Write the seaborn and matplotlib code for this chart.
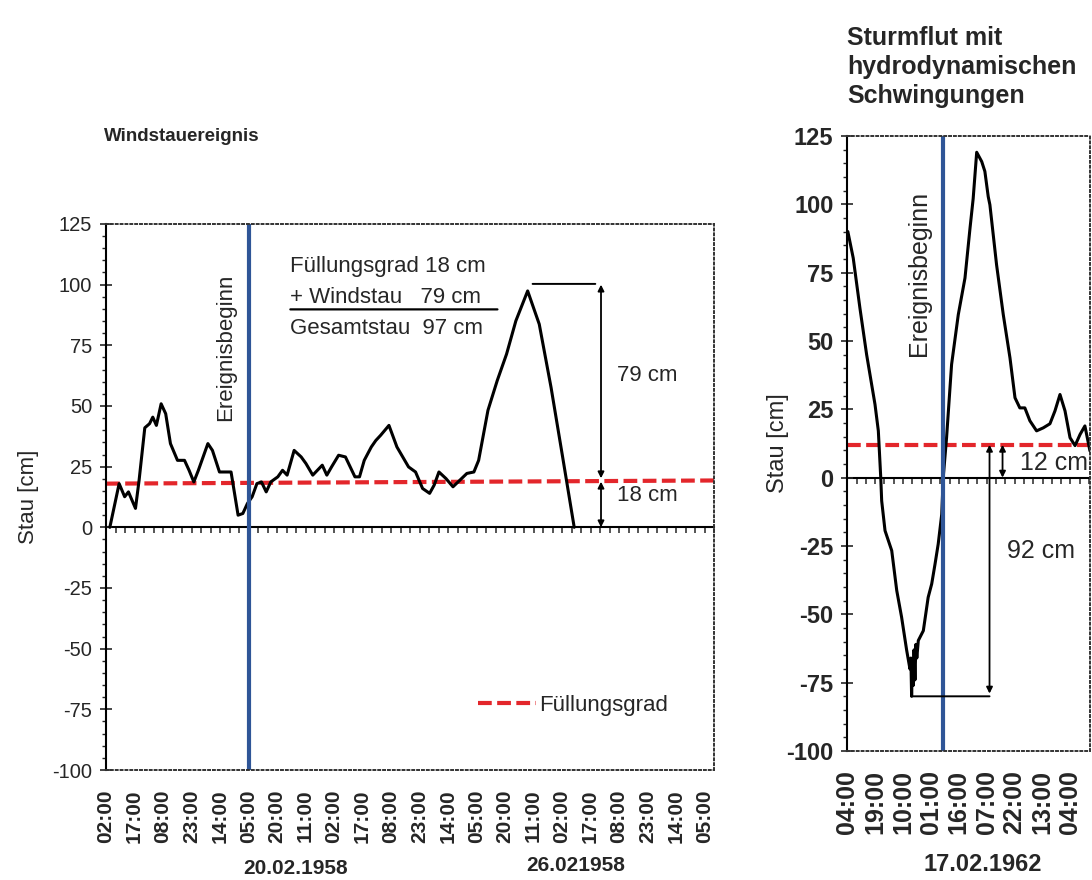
import matplotlib
matplotlib.use("Agg")
import matplotlib.pyplot as plt
from matplotlib.ticker import MultipleLocator
import seaborn as sns

# ============================================
# Windstauereignis (Feb. 1958), Stunden ab 02:00
# ============================================
wind_hours = [2.0, 6.9, 9.8, 11.8, 15.5, 17.4, 20.4, 22.9, 24.6, 26.5, 29.0, 31.4,
              33.9, 37.6, 41.3, 43.7, 46.2, 48.6, 53.6, 56.0, 59.7, 65.8, 69.5, 72.0,
              74.4, 76.9, 79.4, 81.8, 84.3, 86.7, 90.4, 92.9, 95.3, 99.0, 102.7, 105.2,
              108.8, 113.8, 116.2, 118.7, 122.4, 126.0, 131.0, 133.4, 135.9, 139.6,
              142.0, 144.5, 148.9, 153.1, 159.2, 162.9, 166.6, 170.3, 172.7, 175.2,
              178.9, 182.6, 186.2, 189.9, 193.6, 196.1, 201.0, 205.9, 210.8, 215.7,
              221.9, 228.0, 234.2, 240.3, 246.4]
wind_stau = [0, 18, 12.6, 14.6, 7.8, 19.4, 41, 42.7, 45.4, 42, 50.9, 46.8,
             34.5, 27.6, 27.6, 23.5, 18.7, 23.5, 34.5, 31.7, 22.8, 22.8, 5, 5.7,
             9.8, 12.6, 18, 18.7, 14.6, 18.7, 20.8, 23.5, 21.5, 31.7, 29, 26.3,
             21.5, 25.6, 21.5, 24.9, 29.7, 29, 20.8, 20.8, 27.6, 33.1,
             35.8, 37.9, 42, 33.1, 24.9, 22.8, 16, 14, 17.4, 22.8,
             20.1, 16.7, 19.4, 22.2, 22.8, 27.6, 48.2, 60.5, 71.4, 85.1,
             97.4, 83.7, 57.7, 29, 0]
wind_ticks = ["02:00", "17:00", "08:00", "23:00", "14:00", "05:00", "20:00", "11:00",
              "02:00", "17:00", "08:00", "23:00", "14:00", "05:00", "20:00", "11:00",
              "02:00", "17:00", "08:00", "23:00", "14:00", "05:00"]
fill1_hours = [0, 320]
fill1_stau = [18, 19.3]
wind_start = 75

# ============================================
# Sturmflut 17.02.1962, Stunden ab 04:00
# ============================================
storm_hours = [0.3, 3.2, 6.8, 10.4, 14.9, 16.7, 18.0, 18.5, 20.3, 23.9, 26.6, 29.2,
               31.9, 33.7, 34.2, 34.6, 35.0, 35.5, 35.9, 36.4, 36.9, 37.4, 38.2,
               40.9, 43.5, 45.4, 47.2, 48.9, 50.8, 51.6, 53.4, 56.1, 59.7, 63.3,
               66.0, 67.7, 69.6, 72.3, 74.0, 75.8, 76.7, 80.3, 83.9, 87.5, 90.2,
               92.8, 95.5, 98.2, 101.8, 105.4, 109.0, 111.7, 114.4, 117.1, 119.8,
               122.5, 125.2, 127.8, 130.5]
storm_stau = [90, 80.3, 62, 45, 26.8, 17.1, 0, -8.5, -19.4, -26.7, -41.3, -51,
              -63, -70, -66, -80, -68, -76, -63, -74, -61, -66, -59.6,
              -56, -43.8, -38.9, -31.6, -24.3, -13.4, 0, 14.6, 41.4, 59.6, 73,
              91.2, 102, 119, 115.6, 112, 102.8, 99.8, 77.8, 59.6, 43.8, 29.2,
              25.5, 25.5, 20.8, 17.1, 18.2, 19.7, 24.4, 30.4, 24.4, 14.6,
              11.7, 15.8, 18.9, 9.8]
storm_ticks = ["04:00", "19:00", "10:00", "01:00", "16:00", "07:00", "22:00",
               "13:00", "04:00"]
fill2_hours = [0, 131]
fill2_stau = [12, 12]
storm_start = 51.5

RED = "#e3262b"
BLUE = "#2f5597"

sns.set_style("white")
plt.rcParams["font.family"] = ["Liberation Sans", "DejaVu Sans"]
plt.rcParams["axes.unicode_minus"] = False

fig = plt.figure(figsize=(10.92, 8.8), dpi=100)
ax1 = fig.add_axes([0.0971, 0.125, 0.5568, 0.6205])
ax2 = fig.add_axes([0.7759, 0.1466, 0.2222, 0.699])


def style_axes(ax, xmax, ticks, xfs, yfs, yweight):
    ax.set_xlim(0, xmax)
    ax.set_ylim(-100, 125)
    ax.set_xticks([15 * i for i in range(len(ticks))])
    ax.set_xticklabels(ticks, rotation=90, fontsize=xfs, fontweight="bold")
    ax.tick_params(axis="x", length=0, pad=14)
    ax.yaxis.set_major_locator(MultipleLocator(25))
    ax.yaxis.set_minor_locator(MultipleLocator(5))
    ax.tick_params(axis="y", which="major", direction="inout", length=8,
                   width=1.2, labelsize=yfs, pad=6, left=True)
    ax.tick_params(axis="y", which="minor", direction="out", length=3,
                   width=1.0, left=True)
    for lab in ax.get_yticklabels():
        lab.set_fontweight(yweight)
    for side in ["top", "right", "bottom"]:
        ax.spines[side].set_linestyle((0, (1, 1.5)))
        ax.spines[side].set_color("#333333")
        ax.spines[side].set_linewidth(1.4)
    ax.spines["left"].set_color("black")
    ax.spines["left"].set_linewidth(1.5)
    # Nulllinie mit kleinen Stundenstrichen
    zero = ax.secondary_xaxis(100 / 225)
    zero.xaxis.set_major_locator(MultipleLocator(5))
    zero.tick_params(axis="x", direction="out", length=4, width=1.1,
                     labelbottom=False, labeltop=False)
    zero.spines["bottom"].set_linewidth(1.5)
    zero.spines["bottom"].set_color("black")


# ---------------- Windstauereignis ----------------
style_axes(ax1, 320, wind_ticks, 15, 14.5, "normal")
sns.lineplot(x=fill1_hours, y=fill1_stau, ax=ax1, color=RED, lw=3,
             linestyle=(0, (3.3, 1.3)), label="Füllungsgrad", sort=False,
             estimator=None)
sns.lineplot(x=wind_hours, y=wind_stau, ax=ax1, color="black", lw=2.2,
             sort=False, estimator=None)
ax1.axvline(wind_start, color=BLUE, lw=3)
ax1.set_ylabel("Stau [cm]", fontsize=16)
ax1.yaxis.set_label_coords(-0.11, 0.5)
ax1.text(-0.003, 1.16, "Windstauereignis", transform=ax1.transAxes,
         fontsize=13.5, fontweight="bold", ha="left", va="center")
ax1.text(63, 74, "Ereignisbeginn", rotation=90, fontsize=16,
         ha="center", va="center")

ax1.text(97, 107.4, "Füllungsgrad 18 cm", fontsize=16, va="center")
ax1.text(97, 94.5, "+ Windstau   79 cm", fontsize=16, va="center")
ax1.text(97, 82, "Gesamtstau  97 cm", fontsize=16, va="center")
ax1.annotate("", xy=(206, 89.8), xytext=(97, 89.8),
             arrowprops=dict(arrowstyle="-", lw=1.6, color="black",
                             shrinkA=0, shrinkB=0))
ax1.annotate("", xy=(257.5, 100.3), xytext=(224.5, 100.3),
             arrowprops=dict(arrowstyle="-", lw=1.4, color="black",
                             shrinkA=0, shrinkB=0))
ax1.annotate("", xy=(260.5, 100), xytext=(260.5, 20.2),
             arrowprops=dict(arrowstyle="<|-|>", lw=1.3, color="black",
                             mutation_scale=9, shrinkA=0, shrinkB=0))
ax1.annotate("", xy=(260.5, 18.8), xytext=(260.5, 0),
             arrowprops=dict(arrowstyle="<|-|>", lw=1.3, color="black",
                             mutation_scale=9, shrinkA=0, shrinkB=0))
ax1.text(269, 62.5, "79 cm", fontsize=16, va="center")
ax1.text(269, 13, "18 cm", fontsize=16, va="center")

handles, labels = ax1.get_legend_handles_labels()
ax1.legend(handles, labels, loc="center left", bbox_to_anchor=(0.612, 0.119),
           frameon=False, fontsize=16, handlelength=2.6, handletextpad=0.15,
           borderpad=0, borderaxespad=0)

xt1 = ax1.get_xaxis_transform()
ax1.text(100, -0.18, "20.02.1958", transform=xt1, ha="center", va="center",
         fontsize=15, fontweight="bold")
ax1.text(247, -0.174, "26.021958", transform=xt1, ha="center", va="center",
         fontsize=15, fontweight="bold")

# ---------------- Sturmflut 1962 ----------------
style_axes(ax2, 130.5, storm_ticks, 18, 17, "bold")
sns.lineplot(x=fill2_hours, y=fill2_stau, ax=ax2, color=RED, lw=3,
             linestyle=(0, (3.3, 1.3)), sort=False, estimator=None)
sns.lineplot(x=storm_hours, y=storm_stau, ax=ax2, color="black", lw=2.2,
             sort=False, estimator=None)
ax2.axvline(storm_start, color=BLUE, lw=3)
ax2.set_ylabel("Stau [cm]", fontsize=17)
ax2.yaxis.set_label_coords(-0.24, 0.5)
ax2.text(0, 1.112, "Sturmflut mit\nhydrodynamischen\nSchwingungen",
         transform=ax2.transAxes, fontsize=18, fontweight="bold",
         ha="left", va="center", linespacing=1.25)
ax2.text(38.5, 74.5, "Ereignisbeginn", rotation=90, fontsize=18,
         ha="center", va="center")

ax2.annotate("", xy=(76.5, -80), xytext=(34.6, -80),
             arrowprops=dict(arrowstyle="-", lw=1.4, color="black",
                             shrinkA=0, shrinkB=0))
ax2.annotate("", xy=(76.5, 12), xytext=(76.5, -79),
             arrowprops=dict(arrowstyle="<|-|>", lw=1.3, color="black",
                             mutation_scale=9, shrinkA=0, shrinkB=0))
ax2.annotate("", xy=(83.5, 12), xytext=(83.5, 0),
             arrowprops=dict(arrowstyle="<|-|>", lw=1.3, color="black",
                             mutation_scale=9, shrinkA=0, shrinkB=0))
ax2.text(92.8, 5.5, "12 cm", fontsize=18, va="center", clip_on=False)
ax2.text(86, -27, "92 cm", fontsize=18, va="center")

ax2.text(73, -0.185, "17.02.1962", transform=ax2.get_xaxis_transform(),
         ha="center", va="center", fontsize=17, fontweight="bold")

fig.savefig("out.png", dpi=100, facecolor="white")
